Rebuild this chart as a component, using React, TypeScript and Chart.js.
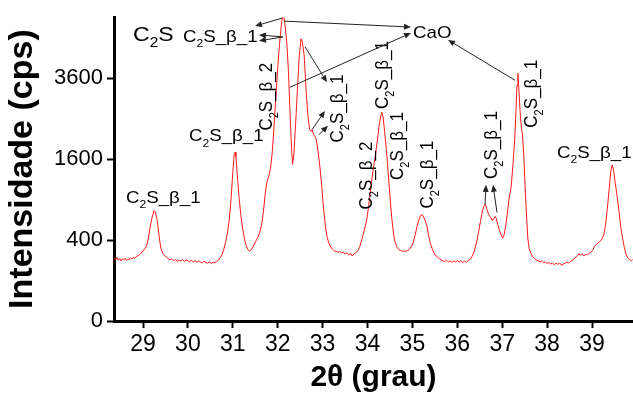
import React, { useEffect, useRef } from 'react';
import { Chart, registerables } from 'chart.js';

Chart.register(...registerables);

// ---- data (2θ in degrees, intensity in cps) ----
const twoTheta: number[] = [
  28.36, 28.39, 28.42, 28.45, 28.48, 28.51, 28.54, 28.57, 28.60, 28.63, 28.66, 28.69, 28.72, 28.75, 28.78, 28.81,
  28.84, 28.87, 28.90, 28.93, 28.96, 29.00, 29.04, 29.08, 29.12, 29.16, 29.20, 29.245, 29.27, 29.31, 29.34, 29.37,
  29.40, 29.44, 29.48, 29.52, 29.56, 29.60, 29.64, 29.68, 29.72, 29.76, 29.80, 29.84, 29.88, 29.92, 29.96, 30.00,
  30.04, 30.08, 30.12, 30.16, 30.20, 30.24, 30.28, 30.32, 30.36, 30.40, 30.44, 30.48, 30.52, 30.56, 30.60, 30.64,
  30.68, 30.72, 30.76, 30.80, 30.84, 30.88, 30.92, 30.96, 31.00, 31.03, 31.05, 31.07, 31.10, 31.14, 31.18, 31.22,
  31.26, 31.30, 31.34, 31.37, 31.40, 31.44, 31.48, 31.52, 31.56, 31.60, 31.64, 31.68, 31.72, 31.76, 31.80, 31.84,
  31.88, 31.92, 31.96, 32.00, 32.04, 32.08, 32.11, 32.13, 32.16, 32.20, 32.24, 32.28, 32.31, 32.33, 32.36, 32.40,
  32.44, 32.48, 32.52, 32.55, 32.59, 32.63, 32.67, 32.71, 32.74, 32.77, 32.80, 32.83, 32.86, 32.90, 32.94, 32.98,
  33.02, 33.06, 33.10, 33.14, 33.18, 33.22, 33.26, 33.30, 33.34, 33.38, 33.42, 33.46, 33.50, 33.54, 33.58, 33.62,
  33.66, 33.70, 33.74, 33.78, 33.82, 33.86, 33.90, 33.94, 33.98, 34.02, 34.06, 34.10, 34.14, 34.18, 34.22, 34.26,
  34.30, 34.32, 34.35, 34.38, 34.42, 34.46, 34.50, 34.54, 34.58, 34.62, 34.66, 34.70, 34.74, 34.78, 34.82, 34.86,
  34.90, 34.94, 34.98, 35.02, 35.06, 35.10, 35.14, 35.18, 35.22, 35.25, 35.28, 35.32, 35.36, 35.40, 35.44, 35.48,
  35.52, 35.56, 35.60, 35.64, 35.68, 35.72, 35.76, 35.80, 35.84, 35.88, 35.92, 35.96, 36.00, 36.04, 36.08, 36.12,
  36.16, 36.20, 36.24, 36.28, 36.32, 36.36, 36.40, 36.44, 36.48, 36.52, 36.56, 36.60, 36.63, 36.66, 36.70, 36.74,
  36.78, 36.81, 36.84, 36.87, 36.90, 36.94, 36.98, 37.01, 37.04, 37.08, 37.12, 37.16, 37.20, 37.24, 37.28, 37.31,
  37.33, 37.35, 37.37, 37.40, 37.43, 37.45, 37.48, 37.51, 37.54, 37.57, 37.60, 37.64, 37.68, 37.72, 37.76, 37.80,
  37.84, 37.88, 37.92, 37.96, 38.00, 38.04, 38.08, 38.12, 38.16, 38.20, 38.24, 38.28, 38.32, 38.36, 38.40, 38.44,
  38.48, 38.52, 38.56, 38.60, 38.64, 38.68, 38.71, 38.74, 38.78, 38.82, 38.86, 38.90, 38.94, 38.98, 39.02, 39.06,
  39.10, 39.14, 39.18, 39.22, 39.26, 39.30, 39.34, 39.38, 39.42, 39.45, 39.48, 39.52, 39.56, 39.60, 39.64, 39.68,
  39.72, 39.76, 39.80, 39.84, 39.88, 39.91,
];

const intensity: number[] = [
  242, 230, 246, 226, 238, 221, 236, 228, 241, 224, 235, 230, 244, 233, 248, 239,
  252, 258, 262, 270, 282, 300, 318, 345, 420, 540, 650, 746, 730, 640, 520, 400,
  320, 280, 262, 250, 240, 228, 236, 222, 230, 218, 226, 220, 232, 216, 228, 222,
  214, 226, 212, 224, 210, 220, 213, 206, 218, 210, 204, 214, 202, 212, 206, 218,
  226, 245, 270, 315, 380, 470, 620, 900, 1350, 1700, 1740, 1650, 1300, 930, 680, 520,
  410, 345, 310, 298, 305, 330, 360, 395, 430, 480, 560, 720, 980, 1180, 1280, 1420,
  1750, 2350, 3100, 3900, 4700, 5350, 5700, 5750, 5400, 4800, 3800, 2500, 1800, 1500, 1700, 2400,
  3300, 4300, 4870, 4750, 4300, 3300, 2600, 2250, 2200, 2230, 2120, 2080, 2010, 1750, 1450, 1120,
  780, 560, 430, 370, 335, 315, 300, 296, 288, 295, 282, 290, 276, 284, 266, 280,
  258, 276, 284, 300, 330, 385, 450, 530, 620, 780, 1000, 1250, 1480, 1700, 2000, 2350,
  2600, 2660, 2520, 2200, 1800, 1350, 950, 650, 460, 370, 330, 312, 305, 298, 300, 296,
  305, 318, 340, 380, 450, 540, 620, 680, 690, 660, 620, 560, 450, 370, 320, 285,
  262, 250, 238, 230, 222, 216, 226, 214, 222, 210, 220, 212, 224, 214, 222, 210,
  218, 212, 224, 230, 250, 280, 330, 400, 500, 620, 740, 820, 830, 760, 690, 660,
  615, 640, 670, 640, 570, 500, 450, 420, 450, 560, 740, 950, 1100, 1500, 2050, 2800,
  3400, 3750, 3300, 2650, 2250, 2150, 1700, 1100, 700, 420, 320, 280, 252, 240, 228, 222,
  214, 220, 208, 214, 202, 210, 198, 206, 194, 204, 196, 206, 190, 198, 204, 212,
  206, 216, 224, 236, 248, 262, 278, 264, 275, 262, 270, 268, 280, 292, 310, 345,
  360, 372, 390, 410, 450, 560, 760, 1050, 1380, 1490, 1400, 1150, 950, 740, 540, 420,
  330, 270, 242, 228, 222, 232,
];

const xTicks: number[] = [29, 30, 31, 32, 33, 34, 35, 36, 37, 38, 39];
const yTicks: number[] = [0, 400, 1600, 3600];
const X_MIN = 28.354;
const X_MAX = 39.913;
const Y_MAX = 5643;

// ---- peak annotations (positions in 2θ / cps) ----
const hLabelText: string[] = ['C{2}S', 'C{2}S_β_1', 'C{2}S_β_1', 'C{2}S_β_1', 'C{2}S_β_1', 'CaO'];
const hLabelTheta: number[] = [28.777, 29.891, 30.024, 28.621, 38.22, 35.013];
const hLabelCps: number[] = [4798, 4764, 1971, 857, 1620, 4900];
const hLabelSize: number[] = [21, 17, 17, 17, 17, 17];

const vLabelText: string[] = ['C{2}S_β_2', 'C{2}S_β_1', 'C{2}S_β_1', 'C{2}S_β_2', 'C{2}S_β_1', 'C{2}S_β_1', 'C{2}S_β_1', 'C{2}S_β_1'];
const vLabelTheta: number[] = [31.873, 33.454, 34.456, 34.100, 34.791, 35.459, 36.884, 37.775];
const vLabelCps: number[] = [2216, 1949, 2750, 760, 1217, 773, 1234, 2285];

const arrowFromTheta: number[] = [32.096, 32.118, 32.118, 32.140, 32.274, 32.608, 32.764, 32.920, 37.285, 36.617, 36.884];
const arrowFromCps: number[] = [5607, 4934, 4934, 5498, 3341, 4597, 2239, 2125, 3542, 828, 720];
const arrowToTheta: number[] = [31.494, 31.583, 31.583, 34.969, 34.969, 33.098, 33.053, 33.120, 35.793, 36.639, 36.795];
const arrowToCps: number[] = [5318, 5003, 4798, 5283, 5072, 3484, 2699, 2332, 4832, 1133, 1133];

const FONT = '"Liberation Sans", Arial, sans-serif';

function drawRichText(ctx: CanvasRenderingContext2D, text: string, size: number) {
  const parts = text.split(/(\{[^}]*\})/).filter((p) => p.length > 0);
  let cx = 0;
  for (const p of parts) {
    if (p.startsWith('{')) {
      const s = p.slice(1, -1);
      const sub = Math.round(size * 0.65);
      ctx.font = `${sub}px ${FONT}`;
      ctx.fillText(s, cx, size * 0.3);
      cx += ctx.measureText(s).width;
    } else {
      ctx.font = `${size}px ${FONT}`;
      ctx.fillText(p, cx, 0);
      cx += ctx.measureText(p).width;
    }
  }
}

const annotationPlugin = {
  id: 'xrdAnnotations',
  afterDatasetsDraw(chart: any) {
    const { ctx, scales } = chart;
    const xs = scales.x;
    const ys = scales.y;
    const px = (t: number) => xs.getPixelForValue(t);
    const py = (c: number) => ys.getPixelForValue(Math.sqrt(c));
    const stretch = 1.1;
    ctx.save();
    ctx.fillStyle = '#000';
    ctx.textAlign = 'left';
    ctx.textBaseline = 'alphabetic';
    hLabelText.forEach((t, i) => {
      ctx.save();
      ctx.translate(px(hLabelTheta[i]), py(hLabelCps[i]));
      ctx.scale(stretch, 1);
      drawRichText(ctx, t, hLabelSize[i]);
      ctx.restore();
    });
    vLabelText.forEach((t, i) => {
      ctx.save();
      ctx.translate(px(vLabelTheta[i]), py(vLabelCps[i]));
      ctx.scale(stretch, 1);
      ctx.rotate(-Math.PI / 2);
      drawRichText(ctx, t, 17);
      ctx.restore();
    });
    ctx.strokeStyle = '#222';
    ctx.fillStyle = '#222';
    ctx.lineWidth = 1;
    arrowFromTheta.forEach((_, i) => {
      const x1 = px(arrowFromTheta[i]);
      const y1 = py(arrowFromCps[i]);
      const x2 = px(arrowToTheta[i]);
      const y2 = py(arrowToCps[i]);
      const ang = Math.atan2(y2 - y1, x2 - x1);
      const hl = 7;
      const hw = 3;
      const bx = x2 - hl * Math.cos(ang);
      const by = y2 - hl * Math.sin(ang);
      ctx.beginPath();
      ctx.moveTo(x1, y1);
      ctx.lineTo(bx, by);
      ctx.stroke();
      ctx.beginPath();
      ctx.moveTo(x2, y2);
      ctx.lineTo(bx + hw * Math.sin(ang), by - hw * Math.cos(ang));
      ctx.lineTo(bx - hw * Math.sin(ang), by + hw * Math.cos(ang));
      ctx.closePath();
      ctx.fill();
    });
    ctx.restore();
  },
};

export default function App() {
  const canvasRef = useRef<HTMLCanvasElement | null>(null);

  useEffect(() => {
    const canvas = canvasRef.current;
    if (!canvas) return;
    const points = twoTheta.map((t, i) => ({ x: t, y: Math.sqrt(intensity[i]) }));
    const chart = new Chart(canvas, {
      type: 'line',
      data: {
        datasets: [
          {
            data: points,
            borderColor: '#ff1a1a',
            borderWidth: 1,
            pointRadius: 0,
            tension: 0,
            fill: false,
          },
        ],
      },
      options: {
        animation: false,
        responsive: false,
        devicePixelRatio: 1,
        layout: { padding: { top: 13, right: 0, left: 0, bottom: 0 } },
        plugins: { legend: { display: false }, tooltip: { enabled: false } },
        scales: {
          x: {
            type: 'linear',
            min: X_MIN,
            max: X_MAX,
            afterFit: (s: any) => {
              s.height = 76;
            },
            afterBuildTicks: (s: any) => {
              s.ticks = xTicks.map((v) => ({ value: v }));
            },
            grid: {
              display: true,
              drawOnChartArea: false,
              drawTicks: true,
              tickLength: 7,
              tickColor: '#000',
              tickWidth: 2,
            },
            border: { display: true, color: '#000', width: 3 },
            ticks: {
              color: '#000',
              font: { family: FONT, size: 23 },
              padding: 3,
              maxRotation: 0,
              autoSkip: false,
              callback: (v: any) => String(v),
            },
            title: {
              display: true,
              text: '2θ (grau)',
              color: '#000',
              font: { family: FONT, size: 30, weight: 'bold' },
              padding: { top: 0, bottom: 1 },
            },
          },
          y: {
            type: 'linear',
            min: 0,
            max: Math.sqrt(Y_MAX),
            afterFit: (s: any) => {
              s.width = 114;
            },
            afterBuildTicks: (s: any) => {
              s.ticks = yTicks.map((v) => ({ value: Math.sqrt(v) }));
            },
            grid: {
              display: true,
              drawOnChartArea: false,
              drawTicks: true,
              tickLength: 7,
              tickColor: '#000',
              tickWidth: 2,
            },
            border: { display: true, color: '#000', width: 3 },
            ticks: {
              color: '#000',
              font: { family: FONT, size: 22 },
              padding: 4,
              autoSkip: false,
              callback: (v: any) => String(Math.round(v * v)),
            },
            title: {
              display: true,
              text: 'Intensidade (cps)',
              color: '#000',
              font: { family: FONT, size: 34, weight: 'bold' },
              padding: { top: 2, bottom: 0 },
            },
          },
        },
      },
      plugins: [annotationPlugin],
    });
    return () => chart.destroy();
  }, []);

  return (
    <div style={{ position: 'absolute', left: 0, top: 0, width: 633, height: 397, background: '#fff' }}>
      <canvas ref={canvasRef} width={633} height={397} style={{ display: 'block' }} />
    </div>
  );
}
